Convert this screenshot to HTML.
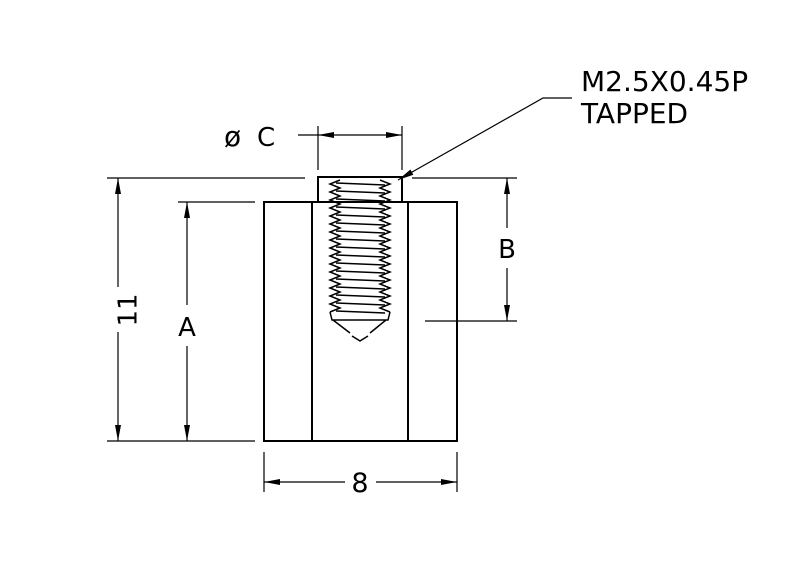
<!DOCTYPE html>
<html><head><meta charset="utf-8"><style>
html,body{margin:0;padding:0;background:#fff;}
svg{display:block}
text{font-family:"DejaVu Sans","Liberation Sans",sans-serif;fill:#000}
</style></head><body>
<svg width="800" height="577" viewBox="0 0 800 577" xmlns="http://www.w3.org/2000/svg">
<defs>
<marker id="ar" viewBox="0 0 16 6" refX="16" refY="3" markerWidth="16" markerHeight="6" markerUnits="userSpaceOnUse" orient="auto-start-reverse"><path d="M0,0 L16,3 L0,6 z" fill="#000"/></marker>
</defs>
<g stroke="#000" fill="none">
<rect x="264" y="202" width="193" height="239" stroke-width="2"/>
<line x1="312" y1="202" x2="312" y2="441" stroke-width="2"/>
<line x1="408" y1="202" x2="408" y2="441" stroke-width="2"/>
<rect x="318" y="177" width="84" height="25" stroke-width="2"/>
<g stroke-width="1.5">
<polyline points="340,180 330,184 340,188 330,192 340,196 330,200 340,204 330,208 340,212 330,216 340,220 330,224 340,228 330,232 340,236 330,240 340,244 330,248 340,252 330,256 340,260 330,264 340,268 330,272 340,276 330,280 340,284 330,288 340,292 330,296 340,300 330,304 340,308 330,312"/>
<polyline points="380,180 390,184 380,188 390,192 380,196 390,200 380,204 390,208 380,212 390,216 380,220 390,224 380,228 390,232 380,236 390,240 380,244 390,248 380,252 390,256 380,260 390,264 380,268 390,272 380,276 390,280 380,284 390,288 380,292 390,296 380,300 390,304 380,308 390,312"/>
<path d="M336,183 L385,185 M336,191 L385,193 M336,199 L385,201 M336,207 L385,209 M336,215 L385,217 M336,223 L385,225 M336,231 L385,233 M336,239 L385,241 M336,247 L385,249 M336,255 L385,257 M336,263 L385,265 M336,271 L385,273 M336,279 L385,281 M336,287 L385,289 M336,295 L385,297 M336,303 L385,305 M336,311 L385,313"/>
<path d="M330,312 L332,320 L388,320 L390,312 M333,320 L350,333 M386,320 L370,333 M352,336 L360,341 L368,336"/>
</g>
<g stroke-width="1.2">
<line x1="107" y1="178" x2="305" y2="178"/>
<line x1="412" y1="178" x2="517" y2="178"/>
<line x1="107" y1="441" x2="255" y2="441"/>
<line x1="118" y1="178" x2="118" y2="287" marker-start="url(#ar)"/>
<line x1="118" y1="332" x2="118" y2="441" marker-end="url(#ar)"/>
<line x1="178" y1="202" x2="255" y2="202"/>
<line x1="187" y1="202" x2="187" y2="305" marker-start="url(#ar)"/>
<line x1="187" y1="346" x2="187" y2="441" marker-end="url(#ar)"/>
<line x1="507" y1="178" x2="507" y2="228" marker-start="url(#ar)"/>
<line x1="507" y1="268" x2="507" y2="321" marker-end="url(#ar)"/>
<line x1="425" y1="321" x2="517" y2="321"/>
<line x1="264" y1="452" x2="264" y2="492"/>
<line x1="457" y1="452" x2="457" y2="492"/>
<line x1="264" y1="482" x2="345" y2="482" marker-start="url(#ar)"/>
<line x1="376" y1="482" x2="457" y2="482" marker-end="url(#ar)"/>
<line x1="318" y1="126" x2="318" y2="170"/>
<line x1="402" y1="126" x2="402" y2="170"/>
<line x1="298" y1="135" x2="318" y2="135"/>
<line x1="318" y1="135" x2="402" y2="135" marker-start="url(#ar)" marker-end="url(#ar)"/>
<polyline points="572,98 543,98 398,180" marker-end="url(#ar)"/>
</g>
</g>
<text x="129" y="310" font-size="26" text-anchor="middle" transform="rotate(-90 129 310)" dominant-baseline="middle">11</text>
<text x="187" y="336" font-size="26" text-anchor="middle">A</text>
<text x="507" y="258" font-size="26" text-anchor="middle">B</text>
<text x="360" y="492" font-size="27" text-anchor="middle">8</text>
<text x="224" y="146" font-size="28">ø</text>
<text x="257" y="146" font-size="26">C</text>
<text x="581" y="91" font-size="28">M2.5X0.45P</text>
<text x="581" y="123" font-size="28">TAPPED</text>
</svg>
</body></html>
